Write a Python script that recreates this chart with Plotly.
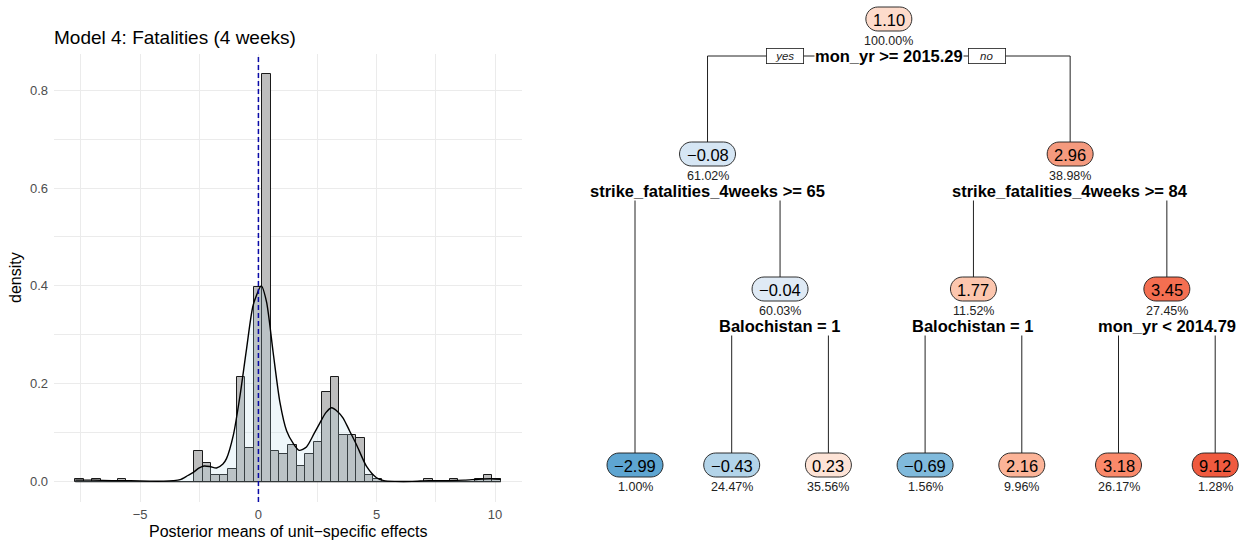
import numpy as np
import plotly.graph_objects as go

# ---------------- data: posterior means histogram (50 bins) ----------------
bin_start = -7.74
bin_width = 0.3596
bin_counts = [1, 0, 1, 0, 0, 1, 0, 0, 0, 0,
              0, 0, 0, 0, 10, 6, 2, 2, 4, 34,
              11, 63, 132, 10, 9, 12, 5, 9, 13, 29,
              34, 15, 15, 14, 2, 1, 0, 0, 0, 0,
              0, 1, 0, 0, 1, 0, 0, 1, 2, 1]

# kernel density estimate of the same effects
kde_x = [-7.74, -7.0, -6.2, -5.4, -4.6, -4.0, -3.6, -3.31, -3.0, -2.75, -2.5, -2.3,
         -2.05, -1.77, -1.5, -1.35, -1.06, -0.78, -0.50, -0.22, 0.12, 0.34, 0.62,
         0.91, 1.19, 1.47, 1.72, 2.03, 2.35, 2.60, 2.85, 3.09, 3.35, 3.58, 3.85,
         4.15, 4.57, 4.99, 5.3, 5.8, 6.5, 7.2, 8.0, 8.7, 9.3, 9.8, 10.24]
kde_y = [0.003, 0.003, 0.002, 0.002, 0.001, 0.001, 0.002, 0.004, 0.012, 0.019, 0.028, 0.032,
         0.031, 0.028, 0.036, 0.047, 0.095, 0.175, 0.272, 0.361, 0.400, 0.368, 0.265,
         0.162, 0.104, 0.078, 0.064, 0.071, 0.098, 0.120, 0.141, 0.151, 0.143, 0.130, 0.104,
         0.075, 0.031, 0.008, 0.002, 0.0005, 0.0005, 0.002, 0.002, 0.003, 0.005, 0.006, 0.005]

x_ticks = [-5, 0, 5, 10]
y_ticks = [0.0, 0.2, 0.4, 0.6, 0.8]

# ---------------- data: regression tree ----------------
# rpart node numbering: children of n are 2n (yes) and 2n+1 (no)
node_ids = [1, 2, 3, 4, 5, 6, 7, 10, 11, 12, 13, 14, 15]
node_values = [1.10, -0.08, 2.96, -2.99, -0.04, 1.77, 3.45, -0.43, 0.23, -0.69, 2.16, 3.18, 9.12]
node_percents = [100.00, 61.02, 38.98, 1.00, 60.03, 11.52, 27.45, 24.47, 35.56, 1.56, 9.96, 26.17, 1.28]
split_nodes = [1, 2, 3, 5, 6, 7]
split_labels = ["mon_yr >= 2015.29", "strike_fatalities_4weeks >= 65",
                "strike_fatalities_4weeks >= 84", "Balochistan = 1",
                "Balochistan = 1", "mon_yr < 2014.79"]

# ---------------- styling ----------------
FONT = "Liberation Sans, Arial, sans-serif"
W, H = 1249, 542
node_fill = {1: "#fddbcb", 2: "#d6e6f4", 3: "#f59a7e", 4: "#5ea5d1", 5: "#dfeaf5",
             6: "#fcc6ae", 7: "#f46f51", 10: "#b3d4e9", 11: "#fde3d6", 12: "#80badc",
             13: "#fcb498", 14: "#fa896a", 15: "#ef5a3f"}

fig = go.Figure()

# histogram
counts = np.array(bin_counts, dtype=float)
dens = counts / (counts.sum() * bin_width)
edges = bin_start + bin_width * np.arange(len(bin_counts) + 1)
centers = (edges[:-1] + edges[1:]) / 2
fig.add_trace(go.Bar(x=centers, y=dens, width=bin_width,
                     marker=dict(color="#bebebe", line=dict(color="#1a1a1a", width=1)),
                     xaxis="x", yaxis="y", hoverinfo="skip", showlegend=False))
# outline of empty bins along the baseline
fig.add_trace(go.Scatter(x=[edges[0], edges[-1]], y=[0, 0], mode="lines",
                         line=dict(color="#1a1a1a", width=1.2),
                         xaxis="x", yaxis="y", hoverinfo="skip", showlegend=False))
# density curve with translucent fill
fig.add_trace(go.Scatter(x=kde_x, y=kde_y, mode="lines",
                         line=dict(color="black", width=1.4, shape="spline", smoothing=0.7),
                         fill="tozeroy", fillcolor="rgba(173,216,230,0.2)",
                         xaxis="x", yaxis="y", hoverinfo="skip", showlegend=False))

x_lo = edges[0] - 0.05 * (edges[-1] - edges[0])
x_hi = edges[-1] + 0.05 * (edges[-1] - edges[0])
y_top = dens.max()
y_lo, y_hi = -0.05 * y_top, 1.05 * y_top

# panel placement in pixels
PX0, PX1, PY0, PY1 = 54, 522, 54, 502

fig.add_shape(type="line", xref="x", yref="y domain", x0=0, x1=0, y0=0, y1=1,
              line=dict(color="#0a0aa8", width=1.5, dash="5px,3px"))

annotations = [
    dict(text="Model 4: Fatalities (4 weeks)", xref="paper", yref="paper",
         x=PX0 / W, y=1 - 38 / H, xanchor="left", yanchor="middle", showarrow=False,
         xshift=-2, font=dict(family=FONT, size=19, color="black")),
    dict(text="Posterior means of unit\u2212specific effects", xref="paper", yref="paper",
         x=((PX0 + PX1) / 2) / W, y=1 - 531 / H, xanchor="center", yanchor="middle",
         showarrow=False, font=dict(family=FONT, size=16, color="black")),
    dict(text="density", xref="paper", yref="paper", textangle=-90,
         x=15 / W, y=1 - ((PY0 + PY1) / 2) / H, xanchor="center", yanchor="middle",
         showarrow=False, font=dict(family=FONT, size=16, color="black")),
]

# ---------------- tree layout ----------------
LEAF_X0, LEAF_STEP = 635.0, 96.7
LEVEL_Y = [19, 154, 289]
LEAF_Y = 465
NODE_H = 24
LABEL_DY = 37
val = dict(zip(node_ids, node_values))
pct = dict(zip(node_ids, node_percents))
splits = dict(zip(split_nodes, split_labels))

pos = {}
leaf_counter = [0]


def place(n, depth):
    if n in splits:
        place(2 * n, depth + 1)
        place(2 * n + 1, depth + 1)
        pos[n] = ((pos[2 * n][0] + pos[2 * n + 1][0]) / 2, LEVEL_Y[depth])
    else:
        pos[n] = (LEAF_X0 + LEAF_STEP * leaf_counter[0], LEAF_Y)
        leaf_counter[0] += 1


place(1, 0)


def fmt(v):
    s = f"{v:.2f}"
    return s.replace("-", "\u2212")


def stadium(cx, cy, w, h):
    r = h / 2
    k = 0.5523 * r
    xa, xb = cx - w / 2 + r, cx + w / 2 - r
    ya, yb = cy - r, cy + r
    return (f"M {xa},{ya} L {xb},{ya} "
            f"C {xb + k},{ya} {xb + r},{cy - k} {xb + r},{cy} "
            f"C {xb + r},{cy + k} {xb + k},{yb} {xb},{yb} "
            f"L {xa},{yb} "
            f"C {xa - k},{yb} {xa - r},{cy + k} {xa - r},{cy} "
            f"C {xa - r},{cy - k} {xa - k},{ya} {xa},{ya} Z")


shapes = []
LINE = dict(color="#222222", width=1)
# branches
for n in split_nodes:
    px, py = pos[n]
    ly = py + LABEL_DY
    lx, _ = pos[2 * n]
    rx, _ = pos[2 * n + 1]
    shapes.append(dict(type="line", xref="x2", yref="y2", x0=lx, x1=rx, y0=ly, y1=ly, line=LINE))
    for c in (2 * n, 2 * n + 1):
        cx, cy = pos[c]
        shapes.append(dict(type="line", xref="x2", yref="y2", x0=cx, x1=cx,
                           y0=ly, y1=cy - NODE_H / 2, line=LINE))

# nodes
for n in node_ids:
    cx, cy = pos[n]
    txt = fmt(val[n])
    w = 6 + 10 * len(txt)
    shapes.append(dict(type="path", xref="x2", yref="y2", path=stadium(cx, cy, w, NODE_H),
                       fillcolor=node_fill[n], line=dict(color="#1a1a1a", width=0.9)))
    annotations.append(dict(text=txt, xref="x2", yref="y2", x=cx, y=cy + 0.5,
                            showarrow=False, xanchor="center", yanchor="middle",
                            font=dict(family=FONT, size=16.5, color="black")))
    annotations.append(dict(text=f"{pct[n]:.2f}%", xref="x2", yref="y2", x=cx, y=cy + 22,
                            showarrow=False, xanchor="center", yanchor="middle",
                            font=dict(family=FONT, size=12.5, color="#222222")))

for n in split_nodes:
    cx, cy = pos[n]
    lab = splits[n].replace("<", "&lt;").replace(">", "&gt;")
    annotations.append(dict(text=f"<b>{lab}</b>", xref="x2", yref="y2", x=cx, y=cy + LABEL_DY,
                            showarrow=False, xanchor="center", yanchor="middle",
                            bgcolor="white", borderpad=0,
                            font=dict(family=FONT, size=16.5, color="black")))

# yes / no tags beside the root split
rx, ry = pos[1]
for word, dx in (("yes", -103.5), ("no", 98.5)):
    annotations.append(dict(text=f"<i>{word}</i>", xref="x2", yref="y2", x=rx + dx,
                            y=ry + LABEL_DY, showarrow=False, xanchor="center", yanchor="middle",
                            bgcolor="white", bordercolor="#1a1a1a", borderwidth=0.8,
                            width=34, height=12, borderpad=1,
                            font=dict(family=FONT, size=11.5, color="#222222")))

grid = "#ebebeb"
fig.update_layout(
    width=W, height=H,
    margin=dict(l=0, r=0, t=0, b=0),
    paper_bgcolor="white", plot_bgcolor="rgba(0,0,0,0)",
    bargap=0,
    showlegend=False,
    xaxis=dict(domain=[PX0 / W, PX1 / W], range=[x_lo, x_hi], anchor="y",
               tickvals=x_ticks, showgrid=True, gridcolor=grid, gridwidth=1.1,
               minor=dict(tickvals=[-7.5, -2.5, 2.5, 7.5], showgrid=True, gridcolor=grid, gridwidth=0.8),
               zeroline=False, showline=False, ticks="", ticklabelstandoff=3,
               tickfont=dict(family=FONT, size=13, color="#4d4d4d")),
    yaxis=dict(domain=[1 - PY1 / H, 1 - PY0 / H], range=[y_lo, y_hi], anchor="x",
               tickvals=y_ticks, tickformat=".1f", showgrid=True, gridcolor=grid, gridwidth=1.1,
               minor=dict(tickvals=[0.1, 0.3, 0.5, 0.7], showgrid=True, gridcolor=grid, gridwidth=0.8),
               zeroline=False, showline=False, ticks="", ticklabelstandoff=5,
               tickfont=dict(family=FONT, size=13, color="#4d4d4d")),
    xaxis2=dict(domain=[0.45, 1], range=[0.45 * W, W], anchor="y2", visible=False),
    yaxis2=dict(domain=[0, 1], range=[H, 0], anchor="x2", visible=False),
    shapes=fig.layout.shapes + tuple(shapes),
    annotations=annotations,
)

fig.write_html("out.html")
